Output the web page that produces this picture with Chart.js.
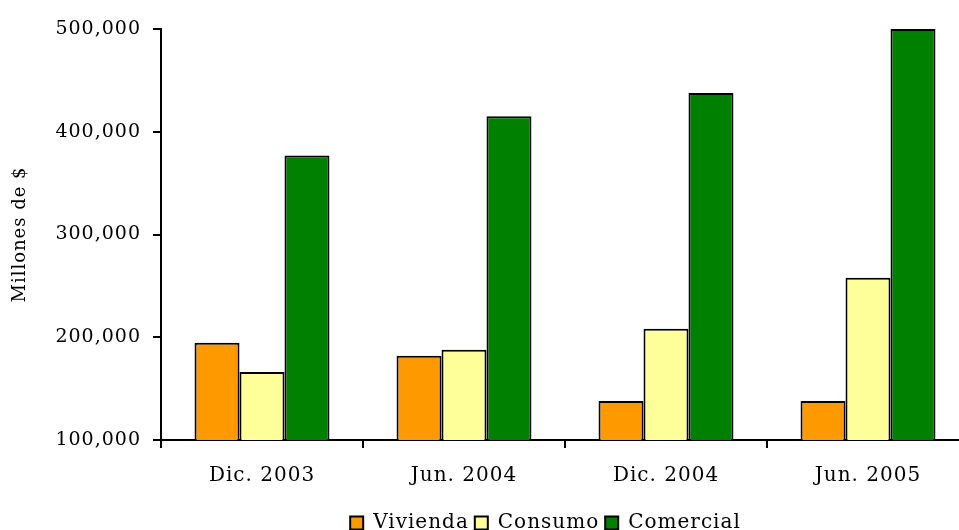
<!DOCTYPE html>
<html>
<head>
<meta charset="utf-8">
<script src="https://cdn.jsdelivr.net/npm/chart.js@4"></script>
<style>
  html, body { margin: 0; padding: 0; background: #fff; overflow: hidden; }
  #wrap { width: 975px; height: 543px; position: relative; }
</style>
</head>
<body>
<div id="wrap"><canvas id="myChart"></canvas></div>
<script>
// periodos y series (millones de $)
const labels = ['Dic. 2003', 'Jun. 2004', 'Dic. 2004', 'Jun. 2005']
const vivienda = [194600, 182000, 138000, 138000]
const consumo = [166300, 187800, 208300, 258000]
const comercial = [377000, 415100, 437600, 500000]
const yTicks = [100000, 200000, 300000, 400000, 500000]

const serif = 'DejaVu Serif'

// the original font is a wide serif, so spread the letters a bit
const spacing = {
  id: 'spacing',
  beforeUpdate: chart => { chart.ctx.letterSpacing = '1px' },
  beforeDraw: chart => { chart.ctx.letterSpacing = '1px' },
  // legend sits a little right of the page centre in the original
  afterLayout: chart => {
    chart.legend.left += 61
    chart.legend.right += 61
  }
}

const data = {
  labels: labels,
  datasets: [
    { label: 'Vivienda', data: vivienda, backgroundColor: '#FF9900', borderColor: '#000', borderWidth: 2 },
    { label: 'Consumo', data: consumo, backgroundColor: '#FFFF99', borderColor: '#000', borderWidth: 2 },
    { label: 'Comercial', data: comercial, backgroundColor: '#008000', borderColor: '#000', borderWidth: 2 }
  ]
}

const config = {
  type: 'bar',
  data: data,
  plugins: [spacing],
  options: {
    responsive: true,
    maintainAspectRatio: false,
    animation: false,
    categoryPercentage: 0.668,
    barPercentage: 1,
    layout: { padding: { top: 29, right: 6, bottom: 0, left: 0 } },
    plugins: {
      tooltip: { enabled: false },
      legend: {
        position: 'bottom',
        labels: {
          color: '#000',
          font: { family: serif, size: 20 },
          boxWidth: 13,
          boxHeight: 13,
          padding: 6
        }
      }
    },
    scales: {
      x: {
        afterFit: function (axis) { axis.height += 3 },
        grid: { display: true, offset: true, drawOnChartArea: false, drawTicks: true, tickLength: 8, color: '#000', lineWidth: 2 },
        border: { display: true, color: '#000', width: 2 },
        ticks: { color: '#000', font: { family: serif, size: 20 }, padding: 16 }
      },
      y: {
        min: 100000,
        max: 500000,
        afterFit: function (axis) { axis.width = 161 },
        afterBuildTicks: function (axis) { axis.ticks = yTicks.map(v => ({ value: v })) },
        grid: { display: true, drawOnChartArea: false, drawTicks: true, tickLength: 8, color: '#000', lineWidth: 2 },
        border: { display: true, color: '#000', width: 2 },
        ticks: {
          color: '#000',
          font: { family: serif, size: 19 },
          padding: 12,
          callback: v => v.toLocaleString('en-US')
        },
        title: {
          display: true,
          text: 'Millones de $',
          color: '#000',
          font: { family: serif, size: 18 },
          padding: { top: 10, bottom: 6 }
        }
      }
    }
  }
}

const myChart = new Chart(document.getElementById('myChart'), config)
</script>
</body>
</html>
